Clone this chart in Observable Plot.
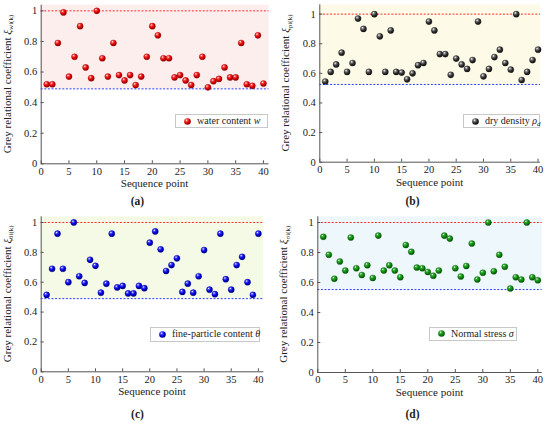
<!DOCTYPE html>
<html><head><meta charset="utf-8">
<script src="https://cdn.jsdelivr.net/npm/d3@7"></script>
<script src="https://cdn.jsdelivr.net/npm/@observablehq/plot@0.6"></script>
<style>
body{margin:0;background:#fff;font-family:"Liberation Serif","Times New Roman",serif;}
#wrap{position:relative;width:550px;height:426px;overflow:hidden;}
.panel{position:absolute;width:275px;height:213px;}
.panel svg{overflow:visible;}
.panel svg, .panel svg text, .legend, .cap{font-family:"Liberation Serif","Times New Roman",serif !important;}
.cap{position:absolute;left:0;width:275px;text-align:center;font-weight:bold;font-size:11.5px;color:#222;top:195px;}
.legend{position:absolute;border:1px solid #c8c8c8;background:#fff;font-size:10px;line-height:10px;color:#222;display:flex;align-items:center;box-sizing:border-box;white-space:nowrap;}
.legend svg{margin:0 6px 0 8px;}
.legend sub{font-size:7px;font-style:italic;vertical-align:-2px;line-height:0;}
</style></head><body><div id="wrap"></div>
<script>
const seq = [1,2,3,4,5,6,7,8,9,10,11,12,13,14,15,16,17,18,19,20,21,22,23,24,25,26,27,28,29,30,31,32,33,34,35,36,37,38,39,40];
const waterContent = [0.52,0.52,0.79,0.99,0.57,0.70,0.90,0.63,0.56,1.00,0.69,0.57,0.79,0.58,0.545,0.58,0.515,0.57,0.70,0.90,0.84,0.69,0.69,0.565,0.58,0.545,0.515,0.58,0.70,0.50,0.54,0.555,0.63,0.565,0.565,0.79,0.52,0.51,0.84,0.525];
const dryDensity = [0.545,0.61,0.66,0.74,0.61,0.67,0.97,0.90,0.61,1.00,0.85,0.61,0.89,0.61,0.605,0.56,0.60,0.655,0.67,0.95,0.89,0.73,0.73,0.59,0.70,0.66,0.63,0.69,0.95,0.58,0.63,0.71,0.76,0.67,0.625,1.00,0.555,0.61,0.69,0.76];
const fineParticle = [0.515,0.69,0.925,0.69,0.60,1.00,0.64,0.595,0.75,0.71,0.53,0.59,0.925,0.565,0.575,0.525,0.525,0.575,0.56,0.865,0.94,0.82,0.675,0.715,0.76,0.535,0.59,0.53,0.64,0.815,0.55,0.52,0.925,0.62,0.55,0.715,0.77,0.60,0.515,0.925];
const normalStress = [0.905,0.785,0.625,0.74,0.68,0.90,0.695,0.65,0.715,0.63,0.913,0.68,0.715,0.68,0.635,0.85,0.805,0.70,0.695,0.67,0.645,0.68,0.913,0.893,0.695,0.64,0.71,0.86,0.62,0.665,1.00,0.675,0.785,0.705,0.56,0.635,0.62,1.00,0.635,0.615];
const lowerBounds = [0.49, 0.525, 0.49, 0.553];
const upperBound = 1;
const xTicks = [0,5,10,15,20,25,30,35,40];
const yTicks = [0,0.2,0.4,0.6,0.8,1];
const panelLetters = ["a","b","c","d"];
const xLabel = "Sequence point";
const yLabel = "Grey relational coefficient ";
const legendNames = ["water content", "dry density", "fine-particle content", "Normal stress"];
const legendSymbols = ["w", "ρ", "θ", "σ"];
const legendSymbolSubs = ["", "d", "", ""];
const labelSubs = ["wi(k)", "ρi(k)", "θi(k)", "σi(k)"];

const series = [waterContent, dryDensity, fineParticle, normalStress];
const dotColors = [["#ff5050","#e00000","#900000"],["#888","#303030","#101010"],["#5050ff","#0000e0","#000080"],["#40b040","#0a8a0a","#045004"]];
const shades = ["#fdeeee","#fdfbe7","#f5fae6","#eef7fc"];
const layout = [
  {left:0, top:0, mL:40.7, mR:6.5, mT:4.7, mB:29.7, xMax:41, yMax:1.037, lg:[175,114,93,14]},
  {left:275, top:0, mL:44.3, mR:10, mT:4.3, mB:31.3, xMax:40.45, yMax:1.063, lg:[188,114,77,14]},
  {left:0, top:213, mL:40.7, mR:11.7, mT:3.3, mB:34.7, xMax:41, yMax:1.038, lg:[150,113.5,110,15]},
  {left:275, top:213, mL:42.3, mR:8.3, mT:3.3, mB:34, xMax:40.8, yMax:1.038, lg:[154,114,88,13.5]}
];
const H = 193;
const FONT = "Liberation Serif, Times New Roman, serif";
const wrap = document.getElementById("wrap");

series.forEach((vals, i) => {
  const L = layout[i];
  const data = seq.map((s, j) => ({seq: s, v: vals[j]}));
  const gid = "grad_" + panelLetters[i];
  const [c0, c1, c2] = dotColors[i];
  const frameH = H - L.mT - L.mB;
  const frameW = 275 - L.mL - L.mR;
  const tickY = 3 * L.yMax / frameH;
  const tickX = 3 * L.xMax / frameW;
  const svg = Plot.plot({
    width: 275, height: H,
    marginLeft: L.mL, marginRight: L.mR, marginTop: L.mT, marginBottom: L.mB,
    style: {fontFamily: FONT, fontSize: "10.5px", color: "#222", background: "transparent", overflow: "visible"},
    x: {domain: [0, L.xMax]},
    y: {domain: [0, L.yMax]},
    marks: [
      Plot.rect([lowerBounds[i]], {x1: 0, x2: L.xMax, y1: d => d, y2: L.yMax, fill: shades[i]}),
      Plot.ruleY([upperBound], {x1: 0, x2: L.xMax, stroke: "#ff2a2a", strokeWidth: 1, strokeDasharray: "2,1.6"}),
      Plot.ruleY([lowerBounds[i]], {x1: 0, x2: L.xMax, stroke: "#2a3cff", strokeWidth: 1, strokeDasharray: "2,1.6"}),
      Plot.ruleX([0], {stroke: "#555", strokeWidth: 1}),
      Plot.ruleY([0], {stroke: "#555", strokeWidth: 1}),
      Plot.ruleX(xTicks, {y1: 0, y2: tickY, stroke: "#555"}),
      Plot.ruleY(yTicks, {x1: 0, x2: tickX, stroke: "#555"}),
      Plot.dot(data, {x: "seq", y: "v", r: 3.1, fill: `url(#${gid})`, stroke: c2, strokeWidth: 0.3}),
      Plot.axisX({ticks: xTicks, tickSize: 0, tickPadding: 3.5, label: null, fontSize: 10.5}),
      Plot.axisY({ticks: yTicks, tickSize: 0, tickPadding: 4, tickFormat: d => String(d), label: null, fontSize: 10.5})
    ]
  });
  const s = d3.select(svg.tagName.toLowerCase() === "svg" ? svg : svg.querySelector("svg"));
  s.attr("font-family", FONT).style("font-family", FONT);
  s.selectAll("text").attr("font-family", FONT).style("font-family", FONT);
  const defs = s.append("defs");
  const g = defs.append("radialGradient").attr("id", gid).attr("cx", "0.38").attr("cy", "0.35").attr("r", "0.65").attr("fx", "0.35").attr("fy", "0.3");
  g.append("stop").attr("offset", "0").attr("stop-color", "#ffffff");
  g.append("stop").attr("offset", "0.25").attr("stop-color", c0);
  g.append("stop").attr("offset", "0.6").attr("stop-color", c1);
  g.append("stop").attr("offset", "1").attr("stop-color", c2);
  // x-axis label
  s.append("text")
    .attr("x", L.mL + frameW / 2)
    .attr("y", H - L.mB + 24)
    .attr("text-anchor", "middle")
    .attr("font-size", "11px")
    .attr("font-family", FONT)
    .style("font-family", FONT)
    .attr("fill", "#222")
    .text(xLabel);
  // y-axis label with subscript
  const t = s.append("text")
    .attr("transform", `translate(${L.mL - 30},${L.mT + frameH / 2}) rotate(-90)`)
    .attr("text-anchor", "middle")
    .attr("font-size", "11px")
    .attr("font-family", FONT)
    .style("font-family", FONT)
    .attr("fill", "#222");
  t.append("tspan").text(yLabel);
  t.append("tspan").attr("font-style", "italic").text("ξ");
  t.append("tspan").attr("font-size", "7px").attr("dy", "2.5").text(labelSubs[i]);

  const div = document.createElement("div");
  div.className = "panel";
  div.style.left = L.left + "px";
  div.style.top = L.top + "px";
  div.appendChild(svg);
  const cap = document.createElement("div");
  cap.className = "cap";
  cap.textContent = "(" + panelLetters[i] + ")";
  div.appendChild(cap);
  const lg = document.createElement("div");
  lg.className = "legend";
  lg.style.left = L.lg[0] + "px";
  lg.style.top = L.lg[1] + "px";
  lg.style.width = L.lg[2] + "px";
  lg.style.height = L.lg[3] + "px";
  lg.innerHTML = `<svg width="7" height="7" viewBox="0 0 7 7"><circle cx="3.5" cy="3.5" r="3.3" fill="url(#${gid})"/></svg><span>${legendNames[i]}&nbsp;<i>${legendSymbols[i]}</i>${legendSymbolSubs[i] ? `<sub>${legendSymbolSubs[i]}</sub>` : ""}</span>`;
  div.appendChild(lg);
  wrap.appendChild(div);
});
</script>
</body></html>
